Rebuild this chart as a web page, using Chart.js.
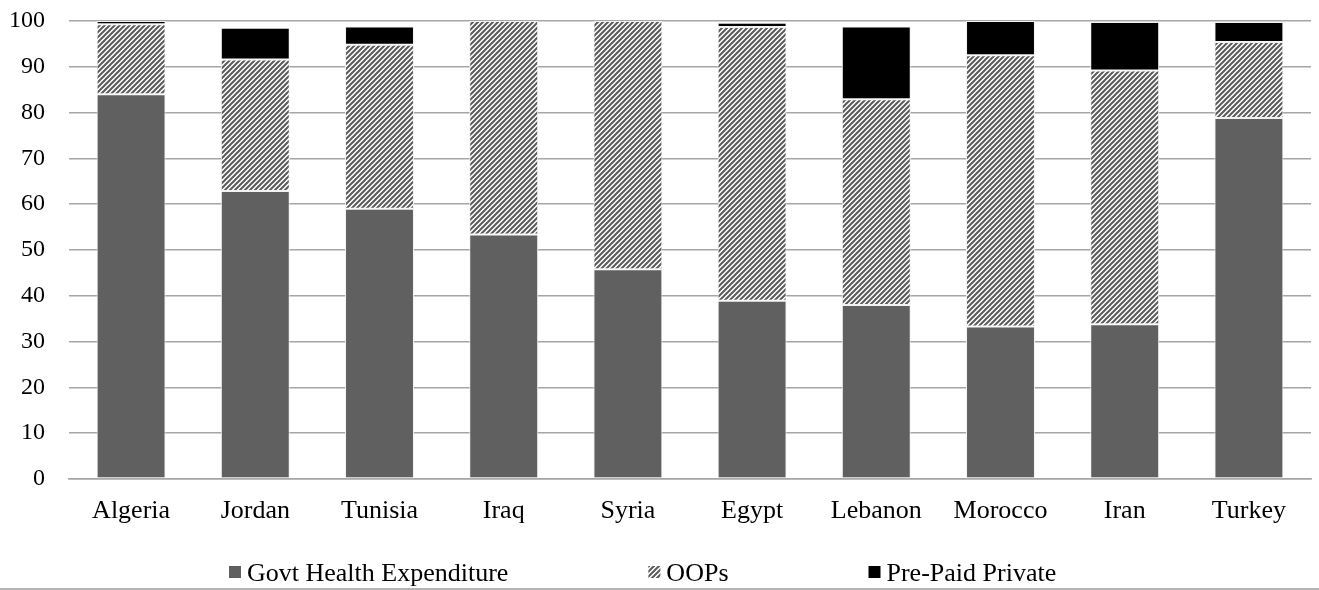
<!DOCTYPE html>
<html>
<head>
<meta charset="utf-8">
<script src="https://cdn.jsdelivr.net/npm/chart.js@4"></script>
<style>
  html, body { margin: 0; padding: 0; background: #fff; }
  #wrap { width: 1319px; height: 588px; border-bottom: 2px solid #b4b4b4; }
</style>
</head>
<body>
<div id="wrap"><canvas id="c" width="1319" height="588"></canvas></div>
<script>
// Share of health expenditure (%) by financing source
const countries = ['Algeria', 'Jordan', 'Tunisia', 'Iraq', 'Syria', 'Egypt', 'Lebanon', 'Morocco', 'Iran', 'Turkey'];
const govtHealth = [84.0, 62.9, 59.0, 53.4, 45.8, 38.9, 38.0, 33.3, 33.8, 78.8];
const oops       = [15.3, 28.7, 35.8, 46.6, 54.2, 59.8, 44.9, 59.2, 55.4, 16.6];
const prePaid    = [ 0.7,  6.9,  4.0,  0.0,  0.0,  0.9, 15.9,  7.5, 10.6,  4.4];
const seriesNames = ['Govt Health Expenditure', 'OOPs', 'Pre-Paid Private'];
const yTicks = [0, 10, 20, 30, 40, 50, 60, 70, 80, 90, 100];

const serif = '"Liberation Serif", "Times New Roman", serif';

// diagonal hatch fill for the out-of-pocket segment
function makeHatch(ctx) {
  const s = 5;
  const t = document.createElement('canvas');
  t.width = s; t.height = s;
  const g = t.getContext('2d');
  g.fillStyle = '#ffffff';
  g.fillRect(0, 0, s, s);
  g.strokeStyle = '#5a5a5a';
  g.lineWidth = 2;
  g.beginPath();
  g.moveTo(0, s); g.lineTo(s, 0);
  g.moveTo(-1, 1); g.lineTo(1, -1);
  g.moveTo(s - 1, s + 1); g.lineTo(s + 1, s - 1);
  g.stroke();
  return ctx.createPattern(t, 'repeat');
}

const ctx = document.getElementById('c').getContext('2d');
const hatch = makeHatch(ctx);
const fills = ['#606060', hatch, '#000000'];

// legend row drawn underneath the axis labels
const bottomLegend = {
  id: 'bottomLegend',
  afterDraw(chart) {
    const c = chart.ctx;
    c.save();
    c.font = '26px ' + serif;
    c.textBaseline = 'middle';
    const box = 12, gap = 6, spacing = 140, y = 573;
    let x = 229;
    chart.data.datasets.forEach((ds, i) => {
      c.fillStyle = fills[i];
      c.fillRect(x, y - 7, box, box);
      c.fillStyle = '#000';
      const w = c.measureText(ds.label).width;
      c.fillText(ds.label, x + box + gap, y + 1);
      x += box + gap + w + spacing;
    });
    c.restore();
  }
};

new Chart(ctx, {
  type: 'bar',
  data: {
    labels: countries,
    datasets: [
      { label: seriesNames[0], data: govtHealth, backgroundColor: fills[0] },
      { label: seriesNames[1], data: oops, backgroundColor: fills[1] },
      { label: seriesNames[2], data: prePaid, backgroundColor: fills[2] }
    ].map(d => Object.assign(d, {
      borderColor: '#f2f2f2',
      borderWidth: 1,
      borderSkipped: false,
      categoryPercentage: 1,
      barPercentage: 0.555
    }))
  },
  options: {
    responsive: false,
    animation: false,
    layout: { padding: { top: 21, left: 9, right: 8, bottom: 61 } },
    plugins: { legend: { display: false }, tooltip: { enabled: false } },
    scales: {
      x: {
        stacked: true,
        grid: { display: false, drawTicks: false },
        border: { display: true, color: '#a6a6a6', width: 1.5 },
        ticks: { color: '#000', font: { family: serif, size: 26 }, padding: 17 },
        afterFit(scale) { scale.height = 48; }
      },
      y: {
        stacked: true,
        min: 0,
        max: 100,
        afterBuildTicks(axis) { axis.ticks = yTicks.map(v => ({ value: v })); },
        grid: { color: '#a6a6a6', lineWidth: 1.5, drawTicks: true, tickLength: 18, tickColor: 'rgba(0,0,0,0)' },
        border: { display: false },
        ticks: { color: '#000', font: { family: serif, size: 24 }, padding: 6 },
        afterFit(scale) { scale.width = 60; }
      }
    }
  },
  plugins: [bottomLegend]
});
</script>
</body>
</html>
